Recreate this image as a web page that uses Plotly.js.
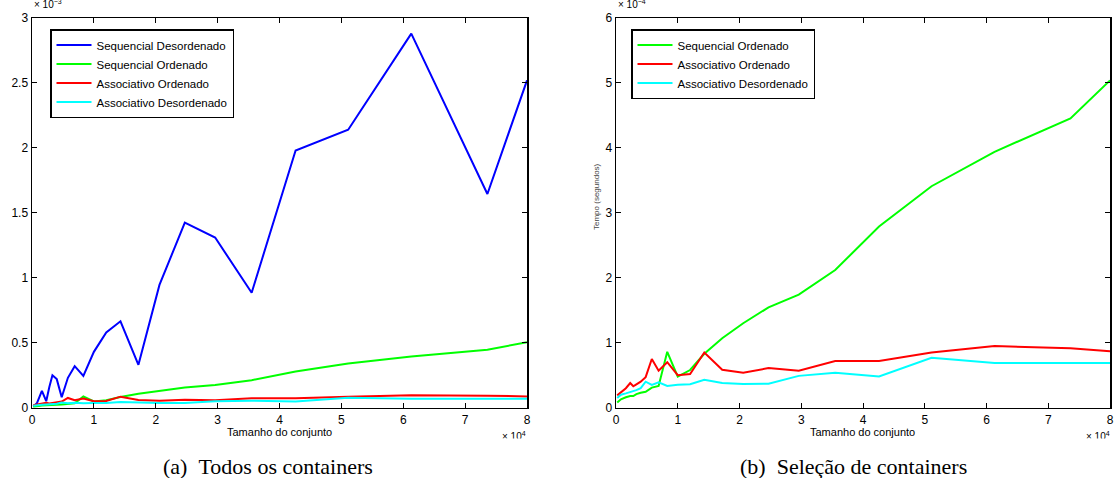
<!DOCTYPE html>
<html>
<head>
<meta charset="utf-8">
<script src="https://cdn.plot.ly/plotly-3.0.1.min.js"></script>
<style>
  html, body { margin: 0; padding: 0; background: #fff; }
  #chart { width: 1115px; height: 478px; }
</style>
</head>
<body>
<div id="chart"></div>
<script>
// Set sizes (x 10^4)
const tamanho = [0.02, 0.08, 0.16, 0.23, 0.28, 0.33, 0.40, 0.48, 0.58, 0.69, 0.83, 1.0, 1.2, 1.43, 1.72, 2.06, 2.47, 2.96, 3.55, 4.26, 5.11, 6.13, 7.36, 8.0];

// Panel (a): all containers
const seqDesA = [0.01, 0.035, 0.13, 0.05, 0.16, 0.25, 0.22, 0.08, 0.23, 0.32, 0.245, 0.43, 0.58, 0.665, 0.33, 0.945, 1.425, 1.31, 0.885, 1.98, 2.14, 2.88, 1.645, 2.52];
const seqOrdA = [0.008, 0.013, 0.016, 0.018, 0.018, 0.021, 0.023, 0.025, 0.031, 0.034, 0.086, 0.048, 0.058, 0.083, 0.107, 0.13, 0.155, 0.174, 0.212, 0.279, 0.341, 0.394, 0.446, 0.504];
const assOrdA = [0.019, 0.024, 0.03, 0.038, 0.033, 0.036, 0.04, 0.047, 0.075, 0.057, 0.07, 0.05, 0.052, 0.085, 0.059, 0.054, 0.061, 0.057, 0.072, 0.072, 0.085, 0.095, 0.092, 0.087];
const assDesA = [0.015, 0.02, 0.022, 0.024, 0.025, 0.027, 0.03, 0.04, 0.035, 0.039, 0.034, 0.036, 0.036, 0.043, 0.038, 0.037, 0.037, 0.049, 0.054, 0.048, 0.077, 0.069, 0.069, 0.069];

// Panel (b): selection of containers
const seqOrdB = [0.08, 0.13, 0.16, 0.18, 0.18, 0.21, 0.23, 0.245, 0.31, 0.335, 0.86, 0.48, 0.58, 0.83, 1.07, 1.30, 1.545, 1.74, 2.12, 2.79, 3.41, 3.94, 4.455, 5.04];
const assOrdB = [0.19, 0.24, 0.30, 0.38, 0.33, 0.36, 0.40, 0.47, 0.75, 0.57, 0.70, 0.50, 0.52, 0.85, 0.585, 0.54, 0.61, 0.57, 0.72, 0.72, 0.85, 0.95, 0.915, 0.87];
const assDesB = [0.15, 0.20, 0.22, 0.24, 0.245, 0.27, 0.30, 0.40, 0.35, 0.39, 0.335, 0.355, 0.36, 0.43, 0.38, 0.365, 0.37, 0.49, 0.54, 0.48, 0.77, 0.69, 0.69, 0.69];

const names = ["Sequencial Desordenado", "Sequencial Ordenado", "Associativo Ordenado", "Associativo Desordenado"];
const colors = ["#0000ff", "#00ff00", "#ff0000", "#00ffff"];
const xTicks = [0, 1, 2, 3, 4, 5, 6, 7, 8];
const yTicksA = [0, 0.5, 1, 1.5, 2, 2.5, 3];
const yTicksB = [0, 1, 2, 3, 4, 5, 6];
const xTitle = "Tamanho do conjunto";
const yTitle = "Tempo (segundos)";
const captionA = "(a)\u00a0\u00a0Todos os containers";
const captionB = "(b)\u00a0\u00a0Seleção de containers";

function tr(y, i, xa, ya, leg) {
  return {x: tamanho, y: y, name: names[i], type: "scatter", mode: "lines",
          line: {color: colors[i], width: 2}, xaxis: xa, yaxis: ya, legend: leg};
}

const data = [
  tr(seqDesA, 0, "x", "y", "legend"),
  tr(seqOrdA, 1, "x", "y", "legend"),
  tr(assOrdA, 2, "x", "y", "legend"),
  tr(assDesA, 3, "x", "y", "legend"),
  tr(seqOrdB, 1, "x2", "y2", "legend2"),
  tr(assOrdB, 2, "x2", "y2", "legend2"),
  tr(assDesB, 3, "x2", "y2", "legend2")
];

const W = 1115, H = 478;
const px = v => v / W;
const py = v => (H - v) / H;
const SANS = "Liberation Sans, Arial, sans-serif";
const font = {family: SANS, size: 12, color: "#000"};

function xAxis(dom, anchor) {
  return {domain: dom, anchor: anchor, range: [0, 8], tickvals: xTicks,
          ticks: "inside", ticklen: 5, tickwidth: 1, tickcolor: "#000",
          showline: true, linecolor: "#000", linewidth: 1.5, mirror: "ticks",
          showgrid: false, zeroline: false, tickfont: font, fixedrange: true};
}
function yAxis(range, vals, anchor) {
  return {domain: [py(407.7), py(18)], anchor: anchor, range: range, tickvals: vals,
          ticks: "inside", ticklen: 5, tickwidth: 1, tickcolor: "#000",
          showline: true, linecolor: "#000", linewidth: 1.5, mirror: "ticks",
          showgrid: false, zeroline: false, tickfont: font, fixedrange: true};
}

const legendBase = {xanchor: "left", yanchor: "top", bgcolor: "#fff",
                    bordercolor: "#000", borderwidth: 1.5,
                    font: {family: SANS, size: 11.5, color: "#000"},
                    itemwidth: 35, tracegroupgap: 0};

const ann = [];
function txt(t, x, y, size, opts) {
  ann.push(Object.assign({text: t, x: x, y: y, xref: "paper", yref: "paper", showarrow: false,
    font: {family: SANS, size: size, color: "#000"}}, opts || {}));
}
// axis titles
txt(xTitle, px(279.5), py(432), 11, {xanchor: "center", yanchor: "middle"});
txt(xTitle, px(863), py(432), 11, {xanchor: "center", yanchor: "middle"});
txt(yTitle, px(597), py(196), 8, {xanchor: "center", yanchor: "middle", textangle: -90,
    font: {family: SANS, size: 8, color: "#444"}});
// exponent labels
txt("× 10<sup>4</sup>", px(528), py(436), 10, {xanchor: "right", yanchor: "middle"});
txt("× 10<sup>4</sup>", px(1112), py(436), 10, {xanchor: "right", yanchor: "middle"});
txt("× 10<sup>−3</sup>", px(32), py(4), 10, {xanchor: "left", yanchor: "middle"});
txt("× 10<sup>−4</sup>", px(616), py(4), 10, {xanchor: "left", yanchor: "middle"});
// white cover that trims the bottom exponent labels like in the reference
ann.push({text: "\u00a0", x: px(515), y: py(438), xref: "paper", yref: "paper", showarrow: false,
          xanchor: "center", yanchor: "top", width: 60, height: 12, bgcolor: "#fff"});
ann.push({text: "\u00a0", x: px(1098), y: py(438), xref: "paper", yref: "paper", showarrow: false,
          xanchor: "center", yanchor: "top", width: 60, height: 12, bgcolor: "#fff"});
// captions
ann.push({text: captionA, x: px(268), y: py(466), xref: "paper", yref: "paper", showarrow: false,
          xanchor: "center", yanchor: "middle",
          font: {family: "Liberation Serif, Times New Roman, serif", size: 22, color: "#000"}});
ann.push({text: captionB, x: px(853), y: py(466), xref: "paper", yref: "paper", showarrow: false,
          xanchor: "center", yanchor: "middle",
          font: {family: "Liberation Serif, Times New Roman, serif", size: 22, color: "#000"}});

const layout = {
  width: W, height: H, autosize: false,
  margin: {l: 0, r: 0, t: 0, b: 0},
  paper_bgcolor: "#fff", plot_bgcolor: "#fff",
  font: font,
  showlegend: true,
  xaxis: xAxis([px(32), px(527)], "y"),
  yaxis: yAxis([0, 3], yTicksA, "x"),
  xaxis2: xAxis([px(616), px(1110)], "y2"),
  yaxis2: yAxis([0, 6], yTicksB, "x2"),
  legend: Object.assign({x: px(50), y: py(29)}, legendBase),
  legend2: Object.assign({x: px(631), y: py(29)}, legendBase),
  annotations: ann
};

Plotly.newPlot("chart", data, layout, {displayModeBar: false, staticPlot: true});
</script>
</body>
</html>
